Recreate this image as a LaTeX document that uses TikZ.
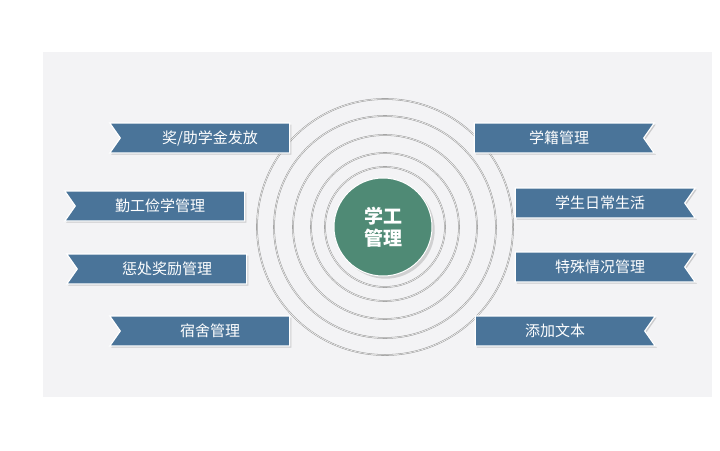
\documentclass[tikz,border=0pt]{standalone}
\usepackage{fontspec}
\setmainfont{Noto Sans CJK SC}
\usetikzlibrary{shapes.symbols,shadows}
\definecolor{rib}{HTML}{4A7499}
\definecolor{grn}{HTML}{4F8A75}
\definecolor{bg}{HTML}{F3F3F5}
\begin{document}
\begin{tikzpicture}[x=1pt,y=-1pt,
  ribbon/.style={signal, draw=white, line width=1.2pt, fill=rib, text=white,
    minimum width=180pt, minimum height=30pt, signal pointer angle=110,
    font=\fontsize{15pt}{17pt}\selectfont, drop shadow={opacity=0.35,shadow xshift=1.5pt,shadow yshift=-1.5pt}},
  lrib/.style={ribbon, signal to=nowhere, signal from=west},
  rrib/.style={ribbon, signal to=nowhere, signal from=east},
  ring/.style={draw=gray!80, line width=1.6pt}]
\useasboundingbox (0,0) rectangle (720,450);
\fill[bg] (43,52) rectangle (712,397);
\coordinate (c) at (385,227);
\foreach \r in {128,111,92,74,60} {\draw[ring] (c) circle (\r); \draw[white, line width=0.5pt] (c) circle (\r);}
\node[circle, fill=grn, draw=white, line width=1pt, minimum size=98pt, text=white, align=center,
  font=\fontsize{19pt}{22pt}\selectfont\bfseries, drop shadow={opacity=0.3}] (hub) at (383,227) {学工\\管理};
\node[lrib] (l1) at (205,138) {\hspace*{10pt}奖/助学金发放};
\node[lrib] (l2) at (160,206) {勤工俭学管理};
\node[lrib] (l3) at (162,269) {\hspace*{10pt}惩处奖励管理};
\node[lrib] (l4) at (205,331) {\hspace*{10pt}宿舍管理};
\node[rrib] (r1) at (559,138) {学籍管理};
\node[rrib] (r2) at (600,203) {学生日常生活};
\node[rrib] (r3) at (600,267) {特殊情况管理};
\node[rrib] (r4) at (560,331) {添加文本\hspace*{10pt}};
\end{tikzpicture}
\end{document}
